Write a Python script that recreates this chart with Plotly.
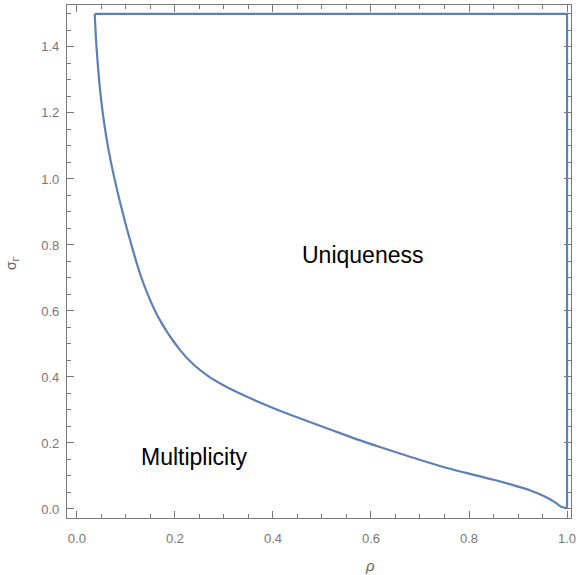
import plotly.graph_objects as go

# boundary curve between regions (rho, sigma_Gamma)
rho_curve = [0.0364, 0.0404, 0.0495, 0.0646, 0.0869, 0.1141, 0.1354, 0.1657, 0.2101,
             0.2384, 0.2687, 0.2990, 0.3293, 0.3697, 0.4101, 0.4505, 0.5111, 0.5717,
             0.6323, 0.6929, 0.7535, 0.8141, 0.8545, 0.8949, 0.9253, 0.9556, 0.9758,
             0.9879, 1.0]
sigma_curve = [1.5, 1.391, 1.239, 1.088, 0.936, 0.785, 0.685, 0.582, 0.482,
               0.437, 0.402, 0.375, 0.352, 0.325, 0.300, 0.277, 0.244, 0.211,
               0.181, 0.152, 0.125, 0.102, 0.087, 0.070, 0.056, 0.037, 0.020,
               0.007, 0.003]
# upper and right edges of the uniqueness region
rho_edge = [0.0364, 1.0, 1.0]
sigma_edge = [1.5, 1.5, 0.003]

x_ticks = [0.0, 0.2, 0.4, 0.6, 0.8, 1.0]
x_tick_text = ["0.0", "0.2", "0.4", "0.6", "0.8", "1.0"]
y_ticks = [0.0, 0.2, 0.4, 0.6, 0.8, 1.0, 1.2, 1.4]
y_tick_text = ["0.0", "0.2", "0.4", "0.6", "0.8", "1.0", "1.2", "1.4"]

region_labels = ["Uniqueness", "Multiplicity"]
label_rho = [0.583, 0.239]
label_sigma = [0.77, 0.158]

line_color = "#5E81B5"
frame_color = "#7a7a7a"

fig = go.Figure()
fig.add_trace(go.Scatter(x=rho_curve, y=sigma_curve, mode="lines",
                         line=dict(color=line_color, width=2.2, shape="spline", smoothing=1.0),
                         hoverinfo="skip", showlegend=False))
fig.add_trace(go.Scatter(x=rho_edge, y=sigma_edge, mode="lines",
                         line=dict(color=line_color, width=2.2),
                         hoverinfo="skip", showlegend=False))

for t, xr, ys in zip(region_labels, label_rho, label_sigma):
    fig.add_annotation(x=xr, y=ys, xref="x", yref="y", text=t, showarrow=False,
                       font=dict(family="Liberation Sans, Arial", size=23, color="black"))

fig.add_annotation(x=0.598, y=0, xref="x", yref="paper", text="<i>ρ</i>", showarrow=False,
                   yshift=-47, yanchor="middle",
                   font=dict(family="Liberation Sans, Arial", size=15, color="#666666"))
fig.add_annotation(x=0, y=0.745, xref="paper", yref="y", text="σ<sub>Γ</sub>", showarrow=False,
                   xshift=-55, xanchor="center", textangle=-90,
                   font=dict(family="Liberation Sans, Arial", size=14, color="#666666"))

axis_common = dict(
    showgrid=False, zeroline=False, showline=True, linecolor=frame_color, linewidth=1.3,
    mirror="allticks", ticks="inside", ticklen=7, tickwidth=1.2, tickcolor=frame_color,
    tickfont=dict(family="Liberation Sans, Arial", size=13, color="#777777"),
    minor=dict(dtick=0.05, ticks="inside", ticklen=4, tickwidth=1, tickcolor=frame_color),
    ticklabeloverflow="allow",
)
fig.update_xaxes(range=[-0.0202, 1.0081], tickvals=x_ticks, ticktext=x_tick_text,
                 ticklabelstandoff=8, **axis_common)
fig.update_yaxes(range=[-0.0273, 1.527], tickvals=y_ticks, ticktext=y_tick_text,
                 ticklabelstandoff=4, **axis_common)

fig.update_layout(width=578, height=575, margin=dict(l=67, r=2, t=5, b=57),
                  plot_bgcolor="white", paper_bgcolor="white")
fig.write_html("out.html")
